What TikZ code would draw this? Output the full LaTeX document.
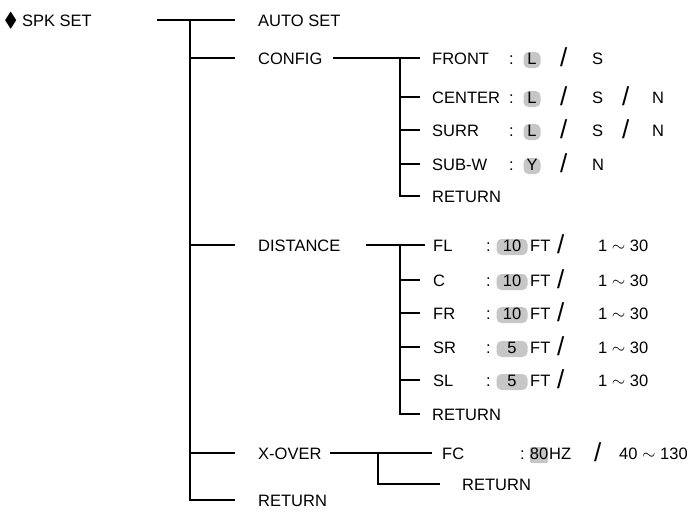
\documentclass[tikz,border=0pt]{standalone}
\usepackage{fontspec}
\setmainfont{Liberation Sans}
\usepackage{amssymb}
\tikzset{
  lbl/.style={anchor=base west,inner sep=0pt,yshift=-6pt,font=\fontsize{16.5}{19}\selectfont},
  hl/.style={lbl,anchor=base,fill=gray!45,rounded corners=5pt,inner xsep=2pt,
    text height=12pt,text depth=4pt},
  sl/.style={lbl,font=\fontsize{26}{28}\selectfont,yshift=-2pt},
  tree/.style={line width=1.1pt}
}
\begin{document}
\begin{tikzpicture}[x=1pt,y=-1pt]
\useasboundingbox (0,0) rectangle (698,515);
% top
\node[lbl] (spk) at (4,20) {{\fontsize{20}{20}\selectfont$\blacklozenge$} SPK SET};
\coordinate (top) at (190,20);
\coordinate (bot) at (190,500);
\draw[tree] (157,20) -- (222,20);
\draw[tree] (top) -- (bot) -- (235,500);
\node[lbl] (auto) at (258,20) {AUTO SET};
\draw[tree] (top) -- (235,20);
\foreach \y/\t/\n in {58/CONFIG/conf,245/DISTANCE/dist,453/X-OVER/xover,500/RETURN/ret}{
  \draw[tree] (190,\y) -- (235,\y);
  \node[lbl] (\n) at (258,\y) {\t};
}
% config
\draw[tree] (333,58) -- (400,58);
\draw[tree] (400,58) -- (400,196) -- (420,196);
\foreach \y/\t in {58/FRONT,97/CENTER,130/SURR,164/SUB-W,196/RETURN}{
  \draw[tree] (400,\y) -- (420,\y);
  \node[lbl] at (432,\y) {\t};
}
\foreach \y/\v in {58/L,97/L,130/L,164/Y}{
  \node[lbl] at (509,\y) {:};
  \node[hl,minimum width=17pt] at (532,\y) {\v};
  \node[sl] at (560,\y) {/};
}
\node[lbl] (fs) at (592,58) {S};
\foreach \y in {97,130}{
  \node[lbl] at (592,\y) {S};
  \node[sl] at (622,\y) {/};
  \node[lbl] at (652,\y) {N};
}
\node[lbl] at (592,164) {N};
% distance
\draw[tree] (366,245) -- (425,245);
\draw[tree] (400,245) -- (400,414) -- (420,414);
\foreach \y/\t/\v in {245/FL/10,280/C/10,313/FR/10,347/SR/5,380/SL/5}{
  \draw[tree] (400,\y) -- (420,\y);
  \node[lbl] at (433,\y) {\t};
  \node[lbl] at (486,\y) {:};
  \node[hl,minimum width=31pt] at (512,\y) {\hfill\v};
  \node[lbl] at (530,\y) {FT};
  \node[sl] at (557,\y) {/};
  \node[lbl] at (598,\y) {1 $\sim$ 30};
}
\node[lbl] at (432,414) {RETURN};
% x-over
\draw[tree] (330,453) -- (432,453);
\draw[tree] (378,453) -- (378,484) -- (440,484);
\node[lbl] (fc) at (442,453) {FC};
\node[lbl] at (520,453) {:};
\node[hl,minimum width=17pt,rounded corners=2pt,inner xsep=0pt] at (539,453) {80};
\node[lbl] at (549,453) {HZ};
\node[sl] at (594,453) {/};
\node[lbl] at (619,453) {40 $\sim$ 130};
\node[lbl] at (462,484) {RETURN};
\end{tikzpicture}
\end{document}
